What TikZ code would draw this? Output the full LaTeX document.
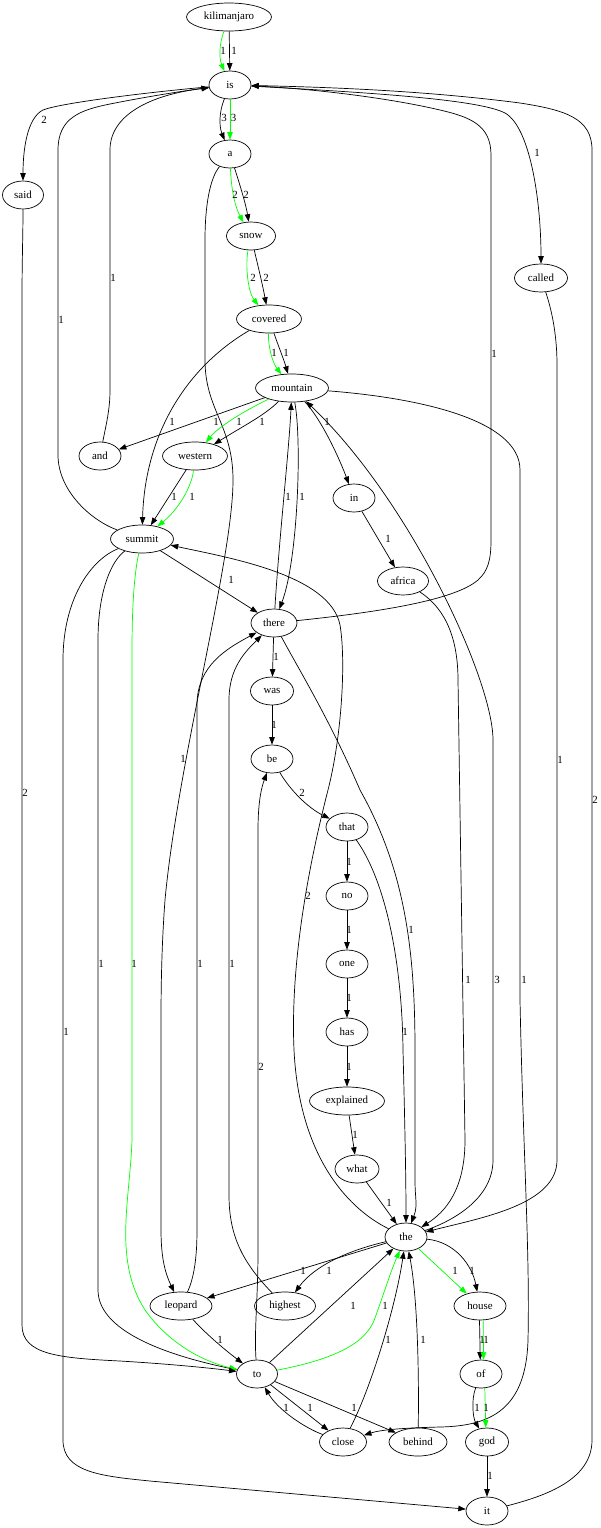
\documentclass[tikz,border=0pt]{standalone}
\usepackage{fontspec}
\setmainfont{Liberation Serif}
\usetikzlibrary{shapes.geometric,arrows.meta}
\definecolor{ggreen}{RGB}{0,255,0}
\begin{document}
\begin{tikzpicture}[x=1pt,y=-1pt,
  nd/.style={draw,ellipse,inner sep=0pt,minimum height=28pt,minimum width=#1,
    line width=0.7pt,font=\fontsize{10.9}{12}\selectfont},
  nd/.default=42pt,
  ed/.style={draw=black,line width=0.7pt,-{Triangle[length=7.5pt,width=5.5pt]}},
  ge/.style={ed,draw=ggreen},
  lbl/.style={inner sep=0pt,font=\fontsize{10.9}{12}\selectfont}]
\fill[white] (0,0) rectangle (600,1528);
\useasboundingbox (0,0) rectangle (600,1528);
% nodes
\node[nd=85pt] (nkil) at (229,17) {kilimanjaro};
\node[nd] (nis) at (230,85) {is};
\node[nd] (na) at (230,154) {a};
\node[nd=41pt] (nsaid) at (23,195) {said};
\node[nd=49pt] (nsnow) at (251,236) {snow};
\node[nd=53pt] (ncalled) at (541,278) {called};
\node[nd=65pt] (ncovered) at (269,319) {covered};
\node[nd=73pt] (nmountain) at (292,388) {mountain};
\node[nd] (nand) at (100,456) {and};
\node[nd=65pt] (nwestern) at (195,456) {western};
\node[nd] (nin) at (354,498) {in};
\node[nd=63pt] (nsummit) at (142,539) {summit};
\node[nd=51pt] (nafrica) at (403,581) {africa};
\node[nd=46pt] (nthere) at (274,623) {there};
\node[nd=43pt] (nwas) at (272,691) {was};
\node[nd] (nbe) at (272,759) {be};
\node[nd] (nthat) at (347,827) {that};
\node[nd] (nno) at (347,896) {no};
\node[nd] (none) at (347,964) {one};
\node[nd] (nhas) at (347,1032) {has};
\node[nd=75pt] (nexplained) at (347,1101) {explained};
\node[nd=44pt] (nwhat) at (357,1169) {what};
\node[nd] (nthe) at (406,1237) {the};
\node[nd=62pt] (nleopard) at (181,1306) {leopard};
\node[nd=61pt] (nhighest) at (285,1306) {highest};
\node[nd=52pt] (nhouse) at (480,1306) {house};
\node[nd=41pt] (nto) at (257,1374) {to};
\node[nd] (nof) at (481,1374) {of};
\node[nd=47pt] (nclose) at (343,1442) {close};
\node[nd=58pt] (nbehind) at (418,1442) {behind};
\node[nd=43pt] (ngod) at (487,1442) {god};
\node[nd] (nit) at (487,1511) {it};
% edges
\draw[ge] (nkil) .. controls (219,45) and (219,58) .. (nis);
\draw[ed] (nkil) -- (nis);
\draw[ed] (nis) .. controls (219,112) and (219,126) .. (na);
\draw[ge] (nis) -- (na);
\draw[ed] (nis) .. controls (150,92) and (60,103) .. (43,110) .. controls (27,118) and (23,150) .. (nsaid);
\draw[ed] (nis) .. controls (380,93) and (480,100) .. (505,113) .. controls (530,127) and (541,200) .. (ncalled);
\draw[ed] (nthere) .. controls (380,612) and (455,600) .. (478,580) .. controls (488,571) and (491,560) .. (491,540) -- (491,155) .. controls (491,125) and (470,117) .. (440,110) .. controls (380,96) and (300,88) .. (nis);
\draw[ed] (nit) .. controls (545,1496) and (592,1480) .. (592,1440) -- (592,150) .. controls (592,118) and (565,110) .. (520,103) .. controls (420,90) and (320,87) .. (nis);
\draw[ed] (nand) .. controls (106,425) and (110,410) .. (110,390) -- (110,150) .. controls (110,115) and (150,95) .. (nis);
\draw[ed] (nsummit) .. controls (90,520) and (58,490) .. (58,455) -- (58,150) .. controls (58,118) and (80,110) .. (110,104) .. controls (150,96) and (190,90) .. (nis);
\draw[ge] (na) .. controls (231,185) and (234,205) .. (nsnow);
\draw[ed] (na) .. controls (240,185) and (246,205) .. (nsnow);
\draw[ed] (na) .. controls (210,178) and (205,205) .. (205,240) -- (205,360) .. controls (205,410) and (233,425) .. (233,480) .. controls (233,560) and (178,760) .. (165,900) .. controls (162,940) and (161,980) .. (161,1020) -- (161,1230) .. controls (161,1260) and (166,1275) .. (nleopard);
\draw[ge] (nsnow) .. controls (245,265) and (248,292) .. (ncovered);
\draw[ed] (nsnow) .. controls (257,262) and (262,282) .. (ncovered);
\draw[ge] (ncovered) .. controls (268,345) and (272,362) .. (nmountain);
\draw[ed] (ncovered) .. controls (278,345) and (284,360) .. (nmountain);
\draw[ed] (ncovered) .. controls (190,365) and (145,430) .. (nsummit);
\draw[ed] (nmountain) -- (nand);
\draw[ge] (nmountain) .. controls (250,408) and (220,425) .. (nwestern);
\draw[ed] (nmountain) .. controls (265,415) and (245,425) .. (nwestern);
\draw[ed] (nwestern) -- (nsummit);
\draw[ge] (nwestern) .. controls (192,485) and (180,508) .. (nsummit);
\draw[ed] (nthere) .. controls (279,540) and (289,450) .. (nmountain);
\draw[ed] (nmountain) .. controls (302,440) and (298,560) .. (nthere);
\draw[ed] (nmountain) .. controls (322,420) and (340,460) .. (nin);
\draw[ed] (nthe) .. controls (450,1222) and (493,1200) .. (493,1160) -- (493,740) .. controls (493,680) and (410,500) .. (nmountain);
\draw[ed] (nmountain) .. controls (420,398) and (520,420) .. (520,470) -- (520,1000) .. controls (523,1150) and (530,1250) .. (528,1340) .. controls (526,1410) and (490,1426) .. (440,1427) .. controls (400,1428) and (380,1430) .. (nclose);
\draw[ed] (nin) -- (nafrica);
\draw[ed] (nafrica) .. controls (440,605) and (458,630) .. (458,680) -- (465,1140) .. controls (465,1190) and (445,1212) .. (nthe);
\draw[ed] (nsummit) -- (nthere);
\draw[ed] (nthe) .. controls (360,1215) and (300,1170) .. (294,1050) .. controls (290,960) and (310,860) .. (328,790) .. controls (342,735) and (346,660) .. (340,625) .. controls (330,575) and (230,558) .. (nsummit);
\draw[ed] (nsummit) .. controls (112,560) and (98,590) .. (98,640) -- (98,1290) .. controls (98,1335) and (180,1358) .. (nto);
\draw[ge] (nsummit) .. controls (135,570) and (132,600) .. (132,650) -- (132,1140) .. controls (130,1200) and (113,1260) .. (145,1310) .. controls (170,1345) and (205,1362) .. (nto);
\draw[ed] (nsummit) .. controls (90,560) and (63,600) .. (63,660) -- (63,1440) .. controls (63,1472) and (100,1476) .. (150,1481) -- (nit);
\draw[ed] (nsaid) .. controls (23,235) and (22,260) .. (22,300) -- (22,1325) .. controls (22,1355) and (60,1358) .. (120,1361) .. controls (170,1364) and (210,1368) .. (nto);
\draw[ed] (nleopard) .. controls (205,1333) and (225,1350) .. (nto);
\draw[ed] (nleopard) .. controls (193,1280) and (197,1262) .. (197,1230) -- (197,705) .. controls (197,665) and (228,648) .. (nthere);
\draw[ed] (nhighest) .. controls (242,1262) and (229,1235) .. (229,1195) -- (229,700) .. controls (229,668) and (245,652) .. (nthere);
\draw[ed] (nthere) -- (nwas);
\draw[ed] (nwas) -- (nbe);
\draw[ed] (nbe) .. controls (290,790) and (308,808) .. (nthat);
\draw[ed] (nto) .. controls (254,1330) and (258,1300) .. (258,1250) -- (258,830) .. controls (258,800) and (262,786) .. (nbe);
\draw[ed] (nthere) .. controls (298,668) and (330,720) .. (360,790) .. controls (405,870) and (415,950) .. (415,1050) -- (415,1180) .. controls (415,1200) and (418,1205) .. (nthe);
\draw[ed] (nthat) .. controls (385,880) and (402,960) .. (403,1050) .. controls (405,1130) and (406,1180) .. (nthe);
\draw[ed] (nthat) -- (nno);
\draw[ed] (nno) -- (none);
\draw[ed] (none) -- (nhas);
\draw[ed] (nhas) -- (nexplained);
\draw[ed] (nexplained) -- (nwhat);
\draw[ed] (nwhat) -- (nthe);
\draw[ed] (ncalled) .. controls (550,305) and (557,330) .. (557,365) -- (557,1160) .. controls (557,1205) and (480,1218) .. (nthe);
\draw[ed] (nthe) -- (nleopard);
\draw[ed] (nthe) .. controls (350,1250) and (315,1265) .. (nhighest);
\draw[ge] (nthe) -- (nhouse);
\draw[ed] (nthe) .. controls (455,1242) and (472,1265) .. (nhouse);
\draw[ed] (nhouse.268) -- (nof.93);
\draw[ge] (nhouse.283) -- (nof.80);
\draw[ed] (nof) .. controls (471,1400) and (473,1418) .. (ngod);
\draw[ge] (nof.285) -- (ngod.95);
\draw[ed] (ngod) -- (nit);
\draw[ed] (nto) -- (nthe);
\draw[ge] (nto) .. controls (330,1360) and (366,1345) .. (375,1318) .. controls (385,1290) and (392,1268) .. (nthe);
\draw[ed] (nclose) .. controls (370,1390) and (395,1310) .. (nthe);
\draw[ed] (nbehind) .. controls (419,1380) and (418,1300) .. (nthe);
\draw[ed] (nto) -- (nclose);
\draw[ed] (nclose) .. controls (305,1428) and (278,1410) .. (nto);
\draw[ed] (nto) -- (nbehind);
% labels
\node[lbl] (l1) at (223,51) {1};
\node[lbl] (l2) at (234,51) {1};
\node[lbl] (l3) at (224,118) {3};
\node[lbl] (l4) at (233.5,118) {3};
\node[lbl] (l5) at (44,120) {2};
\node[lbl] (l6) at (537,153) {1};
\node[lbl] (l7) at (494,354) {1};
\node[lbl] (l8) at (595,800) {2};
\node[lbl] (l9) at (113,278) {1};
\node[lbl] (l10) at (61,320) {1};
\node[lbl] (l11) at (235,195) {2};
\node[lbl] (l12) at (246,195) {2};
\node[lbl] (l13) at (183,759) {1};
\node[lbl] (l14) at (253,278) {2};
\node[lbl] (l15) at (266,278) {2};
\node[lbl] (l16) at (274,353) {1};
\node[lbl] (l17) at (286,353) {1};
\node[lbl] (l18) at (172,422) {1};
\node[lbl] (l19) at (216,422) {1};
\node[lbl] (l20) at (239,422) {1};
\node[lbl] (l21) at (262,422) {1};
\node[lbl] (l22) at (174,497) {1};
\node[lbl] (l23) at (192,497) {1};
\node[lbl] (l24) at (288,497) {1};
\node[lbl] (l25) at (302,497) {1};
\node[lbl] (l26) at (327,422) {1};
\node[lbl] (l27) at (388,539) {1};
\node[lbl] (l28) at (231,580) {1};
\node[lbl] (l29) at (497,980) {3};
\node[lbl] (l30) at (524,980) {1};
\node[lbl] (l31) at (468,980) {1};
\node[lbl] (l32) at (308,896) {2};
\node[lbl] (l33) at (101,964) {1};
\node[lbl] (l34) at (134,964) {1};
\node[lbl] (l35) at (200,964) {1};
\node[lbl] (l36) at (232,964) {1};
\node[lbl] (l37) at (66,1032) {1};
\node[lbl] (l38) at (25,793) {2};
\node[lbl] (l39) at (261,1067) {2};
\node[lbl] (l40) at (276,657) {1};
\node[lbl] (l41) at (274,725) {1};
\node[lbl] (l42) at (302,793) {2};
\node[lbl] (l43) at (411,930) {1};
\node[lbl] (l44) at (405,1032) {1};
\node[lbl] (l45) at (349,862) {1};
\node[lbl] (l46) at (349,930) {1};
\node[lbl] (l47) at (349,998) {1};
\node[lbl] (l48) at (349,1067) {1};
\node[lbl] (l49) at (355,1135) {1};
\node[lbl] (l50) at (389,1203) {1};
\node[lbl] (l51) at (560,760) {1};
\node[lbl] (l52) at (303,1271) {1};
\node[lbl] (l53) at (329,1271) {1};
\node[lbl] (l54) at (455,1271) {1};
\node[lbl] (l55) at (472,1271) {1};
\node[lbl] (l56) at (482,1340) {1};
\node[lbl] (l57) at (486,1340) {1};
\node[lbl] (l58) at (220,1340) {1};
\node[lbl] (l59) at (353,1306) {1};
\node[lbl] (l60) at (385,1306) {1};
\node[lbl] (l61) at (388,1340) {1};
\node[lbl] (l62) at (423,1340) {1};
\node[lbl] (l63) at (310,1408) {1};
\node[lbl] (l64) at (286,1408) {1};
\node[lbl] (l65) at (354,1408) {1};
\node[lbl] (l66) at (477,1408) {1};
\node[lbl] (l67) at (486,1408) {1};
\node[lbl] (l68) at (490,1476) {1};
\end{tikzpicture}
\end{document}
